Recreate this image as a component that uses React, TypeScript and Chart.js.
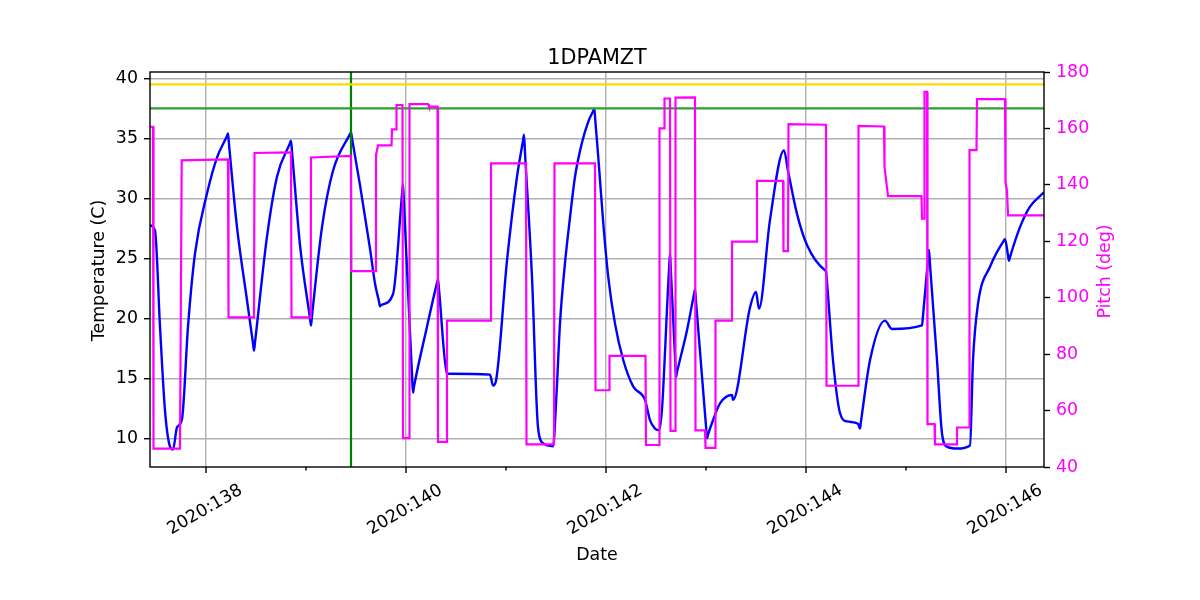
import React, { useEffect, useRef } from 'react';
import { Chart, registerables } from 'chart.js';

Chart.register(...registerables);

const FONT = "'DejaVu Sans', 'Liberation Sans', sans-serif";

const chartTitle = '1DPAMZT';
const xAxisTitle = 'Date';
const yAxisTitle = 'Temperature (C)';
const y2AxisTitle = 'Pitch (deg)';

const xMajorTicks = [138, 140, 142, 144, 146];
const xTickLabels = ['2020:138', '2020:140', '2020:142', '2020:144', '2020:146'];
const xMinorTicks = [139, 141, 143, 145];
const tempTicks = [10, 15, 20, 25, 30, 35, 40];
const pitchTicks = [40, 60, 80, 100, 120, 140, 160, 180];

const xRange = [137.44, 146.38];
const tempRange = [7.6, 40.53];
const pitchRange = [40, 180];

const yellowLimit = 39.5;
const greenLimit = 37.5;
const markerDay = 139.45;

const tempDays = [
  137.44, 137.49, 137.54, 137.59, 137.64, 137.67, 137.71, 137.76, 137.82, 137.89,
  138.01, 138.11, 138.21, 138.22, 138.23, 138.31, 138.41, 138.47, 138.48, 138.49,
  138.61, 138.71, 138.84, 138.85, 138.86, 138.94, 139.04, 139.05, 139.06, 139.16,
  139.27, 139.44, 139.45, 139.46, 139.54, 139.64, 139.69, 139.73, 139.74, 139.75,
  139.87, 139.96, 139.97, 139.98, 140.06, 140.07, 140.08, 140.21, 140.31, 140.32,
  140.33, 140.41, 140.42, 140.84, 140.87, 140.9, 141.01, 141.11, 141.17, 141.18,
  141.19, 141.26, 141.32, 141.37, 141.47, 141.507, 141.54, 141.59, 141.64, 141.69,
  141.757, 141.823, 141.873, 141.883, 141.893, 141.923, 141.973, 142.023, 142.09, 142.173,
  142.273, 142.39, 142.44, 142.49, 142.533, 142.63, 142.64, 142.65, 142.69, 142.7,
  142.71, 142.81, 142.88, 142.89, 142.9, 143.0, 143.01, 143.02, 143.07, 143.14,
  143.26, 143.27, 143.44, 143.5, 143.53, 143.64, 143.78, 143.82, 143.91, 144.01,
  144.19, 144.2, 144.21, 144.27, 144.34, 144.41, 144.52, 144.54, 144.55, 144.64,
  144.79, 144.86, 145.16, 145.17, 145.22, 145.23, 145.24, 145.31, 145.36, 145.41,
  145.51, 145.64, 145.67, 145.72, 145.84, 145.98, 145.99, 146.02, 146.03, 146.04,
  146.14, 146.24, 146.38,
];
const tempValues = [
  27.75, 27.3, 19.3, 12.3, 9.3, 9.06, 10.9, 11.6, 19.3, 25.4,
  30.4, 33.4, 35.2, 35.4, 34.5, 27.6, 21.5, 17.9, 17.3, 18.0,
  26.8, 31.8, 34.6, 34.8, 33.9, 26.1, 20.0, 19.4, 20.2, 27.6,
  32.3, 35.35, 35.5, 35.0, 31.1, 25.8, 22.9, 21.4, 21.0, 21.1,
  22.0, 30.3, 31.2, 29.5, 15.3, 13.8, 14.3, 19.3, 22.95, 23.25,
  22.4, 15.4, 15.38, 15.3, 14.4, 14.8, 24.8, 31.8, 34.8, 35.3,
  33.8, 23.4, 10.9, 9.6, 9.33, 14.0, 19.6, 24.6, 28.4, 31.8,
  34.55, 36.4, 37.3, 37.5, 36.5, 33.4, 27.9, 23.4, 19.55, 16.5,
  14.3, 13.2, 11.5, 10.8, 10.67, 24.0, 25.4, 23.7, 16.8, 15.1,
  15.5, 19.0, 22.0, 22.4, 21.4, 11.0, 10.0, 10.3, 11.5, 12.9,
  13.6, 13.2, 20.9, 22.2, 20.8, 28.2, 34.0, 32.3, 28.7, 26.1,
  24.0, 23.9, 23.0, 16.5, 12.1, 11.4, 11.2, 10.8, 11.4, 16.5,
  19.8, 19.1, 19.4, 20.2, 24.9, 25.7, 24.5, 16.5, 10.4, 9.3,
  9.14, 9.4, 16.5, 21.2, 24.3, 26.5, 26.6, 25.25, 24.8, 25.1,
  27.6, 29.3, 30.5,
];

const pitchDays = [
  137.44, 137.47, 137.475, 137.74, 137.757, 138.22, 138.225, 138.48, 138.485, 138.85,
  138.855, 139.047, 139.05, 139.45, 139.453, 139.695, 139.7, 139.72, 139.855, 139.86,
  139.9, 139.905, 139.965, 139.97, 140.03, 140.035, 140.22, 140.23, 140.315, 140.32,
  140.405, 140.41, 140.845, 140.85, 141.2, 141.205, 141.48, 141.485, 141.89, 141.895,
  142.03, 142.035, 142.395, 142.4, 142.53, 142.535, 142.58, 142.585, 142.64, 142.645,
  142.69, 142.695, 142.89, 142.895, 142.99, 142.995, 143.09, 143.095, 143.255, 143.26,
  143.505, 143.51, 143.77, 143.775, 143.82, 143.825, 144.2, 144.205, 144.52, 144.525,
  144.78, 144.785, 144.82, 145.155, 145.16, 145.18, 145.185, 145.21, 145.215, 145.285,
  145.29, 145.505, 145.51, 145.63, 145.635, 145.705, 145.71, 145.99, 145.995, 146.01,
  146.02, 146.38,
];
const pitchValues = [
  160.6, 160.6, 46.5, 46.5, 148.7, 149.0, 93.0, 93.0, 151.3, 151.5,
  93.0, 93.0, 149.7, 150.3, 109.4, 109.4, 150.5, 154.0, 154.0, 159.7,
  159.7, 168.3, 168.3, 50.2, 50.2, 168.6, 168.6, 167.7, 167.7, 48.9,
  48.9, 91.9, 91.9, 147.6, 147.6, 48.0, 48.0, 147.6, 147.6, 67.2,
  67.2, 79.4, 79.4, 47.8, 47.8, 160.0, 160.0, 170.6, 170.6, 52.8,
  52.8, 170.9, 171.0, 53.0, 53.0, 46.8, 46.8, 91.9, 91.9, 119.9,
  119.9, 141.4, 141.4, 116.5, 116.5, 161.5, 161.3, 68.8, 68.8, 160.9,
  160.7, 146.4, 136.0, 136.0, 128.0, 128.0, 173.0, 173.0, 55.2, 55.2,
  48.0, 48.0, 54.0, 54.0, 152.3, 152.3, 170.4, 170.4, 141.0, 138.0,
  129.2, 129.2,
];

const TICK_PX = 17.4;
const TITLE_PX = 20.8;

const decorPlugin = {
  id: 'decor',
  afterDatasetsDraw(chart: any) {
    const { ctx, chartArea } = chart;
    ctx.save();
    ctx.strokeStyle = '#000';
    ctx.lineWidth = 1.4;
    ctx.strokeRect(chartArea.left, chartArea.top, chartArea.right - chartArea.left, chartArea.bottom - chartArea.top);
    ctx.restore();
  },
  afterDraw(chart: any) {
    const { ctx, chartArea, scales } = chart;
    const xs = scales.x;
    const cx = (chartArea.left + chartArea.right) / 2;
    ctx.save();
    ctx.strokeStyle = '#000';
    ctx.lineWidth = 1.4;
    xMajorTicks.forEach((d) => {
      const x = xs.getPixelForValue(d);
      ctx.beginPath();
      ctx.moveTo(x, chartArea.bottom);
      ctx.lineTo(x, chartArea.bottom + 6);
      ctx.stroke();
    });
    xMinorTicks.forEach((d) => {
      const x = xs.getPixelForValue(d);
      ctx.beginPath();
      ctx.moveTo(x, chartArea.bottom);
      ctx.lineTo(x, chartArea.bottom + 3.5);
      ctx.stroke();
    });
    ctx.fillStyle = '#000';
    ctx.font = `${TICK_PX}px ${FONT}`;
    ctx.textAlign = 'center';
    ctx.textBaseline = 'middle';
    xMajorTicks.forEach((d, i) => {
      const x = xs.getPixelForValue(d);
      ctx.save();
      ctx.translate(x - 1, 510);
      ctx.rotate(-Math.PI / 6);
      ctx.fillText(xTickLabels[i], 0, 0);
      ctx.restore();
    });
    ctx.textBaseline = 'alphabetic';
    ctx.font = `${TITLE_PX}px ${FONT}`;
    ctx.fillText(chartTitle, cx, 63.5);
    ctx.font = `${TICK_PX}px ${FONT}`;
    ctx.fillText(xAxisTitle, cx, 560);
    ctx.save();
    ctx.translate(103.5, 270.5);
    ctx.rotate(-Math.PI / 2);
    ctx.fillText(yAxisTitle, 0, 0);
    ctx.restore();
    ctx.save();
    ctx.fillStyle = '#ff00ff';
    ctx.translate(1110, 271.5);
    ctx.rotate(-Math.PI / 2);
    ctx.fillText(y2AxisTitle, 0, 0);
    ctx.restore();
    ctx.restore();
  },
};

export default function App() {
  const ref = useRef<HTMLCanvasElement>(null);
  useEffect(() => {
    if (!ref.current) return;
    const lineBase = { pointRadius: 0, pointHoverRadius: 0, tension: 0, fill: false };
    const chart = new Chart(ref.current, {
      type: 'line',
      data: {
        datasets: [
          {
            ...lineBase,
            label: 'Pitch',
            data: pitchDays.map((d, i) => ({ x: d, y: pitchValues[i] })),
            borderColor: '#ff00ff',
            borderWidth: 2.2,
            yAxisID: 'y2',
            order: 1,
          },
          {
            ...lineBase,
            label: 'yellow limit',
            data: [{ x: xRange[0], y: yellowLimit }, { x: xRange[1], y: yellowLimit }],
            borderColor: '#ffd700',
            borderWidth: 2.2,
            yAxisID: 'y',
            order: 2,
          },
          {
            ...lineBase,
            label: 'green limit',
            data: [{ x: xRange[0], y: greenLimit }, { x: xRange[1], y: greenLimit }],
            borderColor: '#2ca02c',
            borderWidth: 2.2,
            yAxisID: 'y',
            order: 2,
          },
          {
            ...lineBase,
            label: 'marker',
            data: [{ x: markerDay, y: tempRange[0] }, { x: markerDay, y: tempRange[1] }],
            borderColor: '#008000',
            borderWidth: 2.2,
            yAxisID: 'y',
            order: 2,
          },
          {
            ...lineBase,
            label: '1DPAMZT',
            data: tempDays.map((d, i) => ({ x: d, y: tempValues[i] })),
            borderColor: '#0000ff',
            borderWidth: 2.4,
            cubicInterpolationMode: 'monotone',
            yAxisID: 'y',
            order: 3,
          },
        ],
      },
      options: {
        responsive: false,
        maintainAspectRatio: false,
        devicePixelRatio: 1,
        animation: false,
        events: [],
        layout: { padding: { top: 72, left: 0, right: 0, bottom: 0 } },
        plugins: {
          legend: { display: false },
          title: { display: false },
          tooltip: { enabled: false },
        },
        scales: {
          x: {
            type: 'linear',
            min: xRange[0],
            max: xRange[1],
            afterBuildTicks: (scale: any) => {
              scale.ticks = xMajorTicks.map((v) => ({ value: v }));
            },
            afterFit: (scale: any) => {
              scale.height = 133;
            },
            ticks: { display: false },
            grid: { color: '#b0b0b0', lineWidth: 1.4, drawTicks: false },
            border: { display: false },
          },
          y: {
            type: 'linear',
            position: 'left',
            min: tempRange[0],
            max: tempRange[1],
            afterBuildTicks: (scale: any) => {
              scale.ticks = tempTicks.map((v) => ({ value: v }));
            },
            afterFit: (scale: any) => {
              scale.width = 150;
            },
            ticks: { color: '#000', font: { family: FONT, size: TICK_PX }, padding: 6 },
            grid: { color: '#b0b0b0', lineWidth: 1.4, tickColor: '#000', tickLength: 6, tickWidth: 1.4 },
            border: { display: false },
          },
          y2: {
            type: 'linear',
            position: 'right',
            min: pitchRange[0],
            max: pitchRange[1],
            afterBuildTicks: (scale: any) => {
              scale.ticks = pitchTicks.map((v) => ({ value: v }));
            },
            afterFit: (scale: any) => {
              scale.width = 156;
            },
            ticks: { color: '#ff00ff', font: { family: FONT, size: TICK_PX }, padding: 6 },
            grid: { drawOnChartArea: false, tickColor: '#000', tickLength: 6, tickWidth: 1.4 },
            border: { display: false },
          },
        },
      },
      plugins: [decorPlugin],
    } as any);
    return () => chart.destroy();
  }, []);
  return (
    <div style={{ position: 'absolute', left: 0, top: 0, width: 1200, height: 600, background: '#fff' }}>
      <canvas ref={ref} width={1200} height={600} style={{ display: 'block', width: 1200, height: 600 }} />
    </div>
  );
}
